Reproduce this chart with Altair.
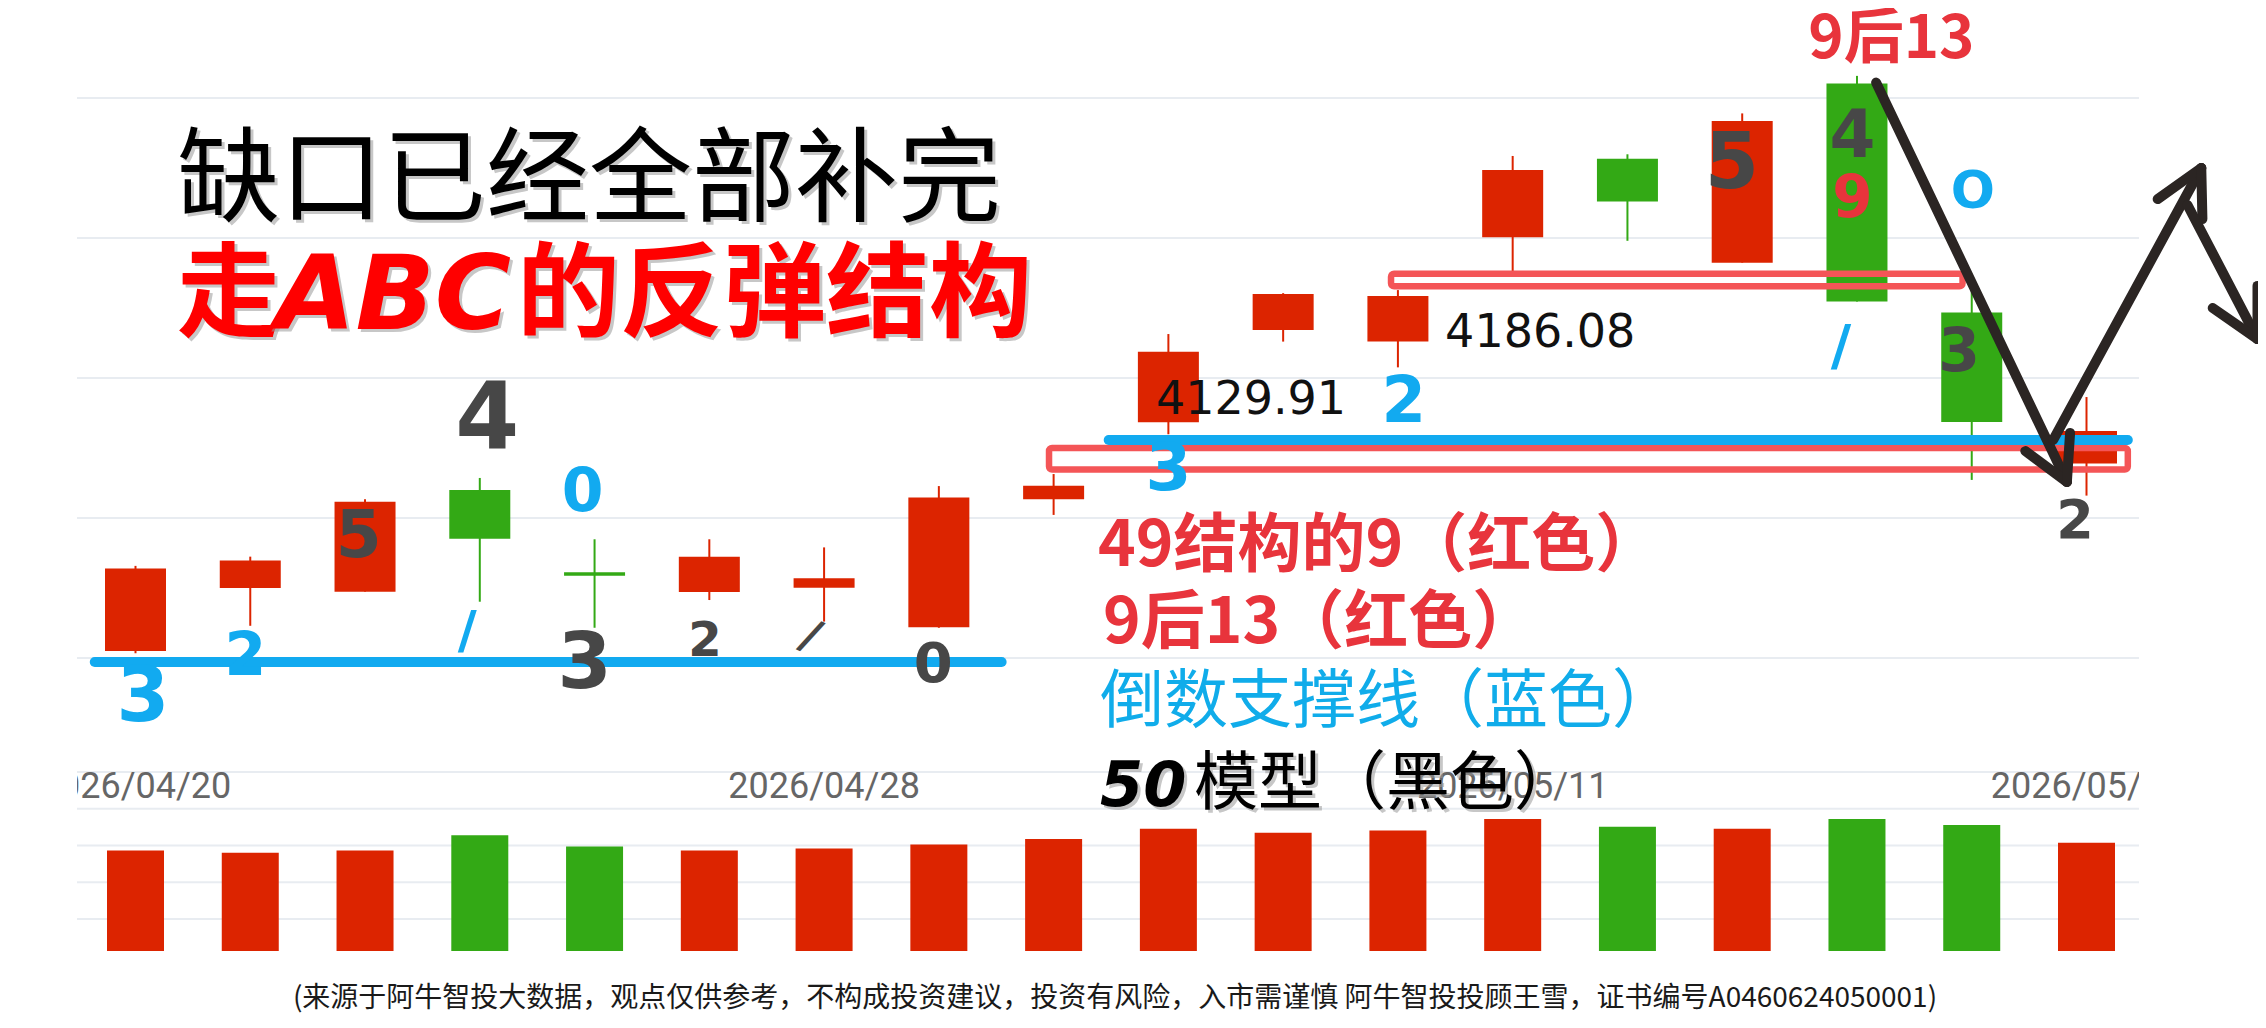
import altair as alt
import pandas as pd

# ---------------- data ----------------
dates = ["2026/04/20", "2026/04/21", "2026/04/22", "2026/04/23", "2026/04/24",
         "2026/04/27", "2026/04/28", "2026/04/29", "2026/04/30", "2026/05/06",
         "2026/05/07", "2026/05/08", "2026/05/11", "2026/05/12", "2026/05/13",
         "2026/05/14", "2026/05/15", "2026/05/18"]
opens = [4052.5, 4075.0, 4073.7, 4110.0, 4080.6, 4073.6, 4075.1, 4061.0, 4106.7,
         4134.2, 4167.1, 4163.0, 4200.3, 4228.3, 4191.2, 4255.2, 4173.4, 4119.5]
closes = [4082.0, 4084.8, 4105.8, 4092.6, 4079.4, 4086.2, 4078.5, 4107.3, 4111.5,
          4159.4, 4180.0, 4179.3, 4224.3, 4213.0, 4241.8, 4177.3, 4134.3, 4131.1]
highs = [4082.9, 4086.2, 4106.7, 4114.3, 4092.4, 4092.4, 4089.5, 4111.4, 4115.7,
         4165.7, 4180.3, 4181.4, 4229.3, 4229.9, 4244.5, 4257.9, 4181.4, 4143.2]
lows = [4051.7, 4061.5, 4073.7, 4070.1, 4060.8, 4070.7, 4063.0, 4060.8, 4101.1,
        4129.91, 4163.0, 4153.8, 4186.08, 4199.0, 4191.2, 4177.3, 4113.6, 4108.0]
volumes = [9730, 9610, 9730, 10560, 9940, 9730, 9840, 10060, 10350,
           10910, 10700, 10820, 11440, 11020, 10910, 11440, 11110, 10150]

price_grid = [4050, 4100, 4150, 4200, 4250]
vol_grid = [6000, 8000, 10000, 12000, 14000]
vol_base = 4260
tick_index = [0, 6, 12, 17]

# gap boxes (red), support lines (blue), 50-model arrows (black) in data units
box_x1 = [10.94, 7.96]
box_x2 = [15.92, 17.36]
box_top = [4187.25, 4125.0]
box_bot = [4182.75, 4117.3]

sup_x1 = [-0.355, 8.48]
sup_x2 = [7.547, 17.36]
sup_p = [4048.6, 4127.86]

arr_x1 = [15.167, 16.467, 16.857, 16.71, 17.62, 18.01, 17.88, 18.10, 18.49]
arr_y1 = [4255.5, 4123.9, 4130.4, 4127.9, 4213.9, 4206.8, 4211.8, 4175.0, 4182.9]
arr_x2 = [16.829, 16.829, 16.829, 18.0, 18.0, 18.0, 18.49, 18.49, 18.49]
arr_y2 = [4112.9, 4112.9, 4112.9, 4225.0, 4225.0, 4225.0, 4163.9, 4163.9, 4163.9]

# hand-written counts
hw_i = [0.065, 0.958, 1.946, 3.065, 2.89, 3.896, 3.914, 4.963, 5.88, 6.95,
        9.0, 11.05, 13.91, 14.96, 14.96, 14.86, 16.01, 15.89, 16.9]
hw_p = [4035.7, 4050.4, 4093.2, 4135.0, 4059.3, 4108.9, 4047.5, 4055.7, 4057.5, 4047.5,
        4117.1, 4141.1, 4226.1, 4236.1, 4213.6, 4161.1, 4216.4, 4158.9, 4098.6]
hw_t = ["3", "2", "5", "4", "/", "0", "3", "2", "/", "0",
        "3", "2", "5", "4", "9", "/", "O", "3", "2"]
hw_kind = ["b", "b", "k", "k", "b", "b", "k", "k", "k", "k",
           "b", "b", "k", "k", "r", "b", "b", "k", "k"]

price_notes = ["4129.91", "4186.08"]
note_i = [9.72, 12.24]
note_p = [4142.1, 4166.1]

# ---------------- styling ----------------
RED = "#dc2400"
GREEN = "#33a915"
GRID = "#e8ecf1"
BLUE = "#12aaf0"
BOX = "#f45557"
INK = "#474747"
LRED = "#e8343c"
CJK = "Noto Sans CJK SC"
HAND = "DejaVu Sans"

PLOT_W, PLOT_H = 2062, 1012
XS = alt.Scale(domain=[0, 17], range=[53.5, 2014.5], nice=False, zero=False)
YP = alt.Scale(domain=[4050, 4250], range=[650, 90], nice=False, zero=False)
YV = alt.Scale(domain=[vol_base, 14000], range=[943, 764], nice=False, zero=False)

df = pd.DataFrame({"i": list(range(len(dates))), "date": dates, "open": opens,
                   "close": closes, "high": highs, "low": lows, "vol": volumes})
df["col"] = [RED if c >= o else GREEN for o, c in zip(opens, closes)]

X = alt.X("i:Q", scale=XS, axis=None)

grid_p = alt.Chart(pd.DataFrame({"p": price_grid})).mark_rule(color=GRID, strokeWidth=2).encode(
    y=alt.Y("p:Q", scale=YP, axis=None), x=alt.value(0), x2=alt.value(PLOT_W))
grid_v = alt.Chart(pd.DataFrame({"v": vol_grid})).mark_rule(color=GRID, strokeWidth=2).encode(
    y=alt.Y("v:Q", scale=YV, axis=None), x=alt.value(0), x2=alt.value(PLOT_W))

vol = alt.Chart(df).mark_bar(size=57).encode(
    x=X, y=alt.Y("vol:Q", scale=YV, axis=None), y2=alt.datum(vol_base),
    color=alt.Color("col:N", scale=None))

wick = alt.Chart(df).mark_rule(strokeWidth=2).encode(
    x=X, y=alt.Y("low:Q", scale=YP, axis=None), y2="high:Q",
    color=alt.Color("col:N", scale=None))
body = alt.Chart(df).mark_bar(size=61).encode(
    x=X, y=alt.Y("open:Q", scale=YP, axis=None), y2="close:Q",
    color=alt.Color("col:N", scale=None))

ticks = pd.DataFrame({"i": tick_index, "t": [dates[k] for k in tick_index]})
date_lbl = alt.Chart(ticks).mark_text(
    clip=True, font="Roboto", fontSize=36, color="#666666",
    baseline="middle", align="center").encode(x=X, y=alt.value(779), text="t:N")

boxes = alt.Chart(pd.DataFrame({"x1": box_x1, "x2": box_x2, "y1": box_top, "y2": box_bot})).mark_rect(
    fillOpacity=0, stroke=BOX, strokeWidth=6.5, cornerRadius=3).encode(
    x=alt.X("x1:Q", scale=XS, axis=None), x2="x2:Q",
    y=alt.Y("y1:Q", scale=YP, axis=None), y2="y2:Q")

supports = alt.Chart(pd.DataFrame({"x1": sup_x1, "x2": sup_x2, "p": sup_p})).mark_rule(
    color=BLUE, strokeWidth=10, strokeCap="round").encode(
    x=alt.X("x1:Q", scale=XS, axis=None), x2="x2:Q",
    y=alt.Y("p:Q", scale=YP, axis=None))

hw_color = {"b": BLUE, "k": INK, "r": LRED}
sizes = [76, 60, 66, 92, 52, 60, 78, 48, 44, 56, 66, 64, 78, 66, 58, 56, 52, 60, 54]
angles = [0, 0, 0, 0, 0, 0, 0, 0, 25, 0, 0, 0, 0, 0, 0, 0, 0, 0, 0]
hw = pd.DataFrame({"i": hw_i, "p": hw_p, "t": hw_t,
                   "c": [hw_color[k] for k in hw_kind], "fs": sizes, "a": angles})
hand = alt.Chart(hw).mark_text(font=HAND, fontWeight="bold", baseline="middle", align="center").encode(
    x=alt.X("i:Q", scale=XS, axis=None), y=alt.Y("p:Q", scale=YP, axis=None), text="t:N",
    color=alt.Color("c:N", scale=None), size=alt.Size("fs:Q", scale=None),
    angle=alt.Angle("a:Q", scale=None))

notes = alt.Chart(pd.DataFrame({"i": note_i, "p": note_p, "t": price_notes})).mark_text(
    font=HAND, fontSize=46, color="#111111", baseline="middle", align="center").encode(
    x=alt.X("i:Q", scale=XS, axis=None), y=alt.Y("p:Q", scale=YP, axis=None), text="t:N")

top_note = alt.Chart(pd.DataFrame({"i": [15.3], "p": [4270.6], "t": ["9后13"]})).mark_text(
    font=CJK, fontSize=60, fontWeight="bold", color=LRED, baseline="middle", align="center").encode(
    x=alt.X("i:Q", scale=XS, axis=None), y=alt.Y("p:Q", scale=YP, axis=None), text="t:N")

arrows = alt.Chart(pd.DataFrame({"x1": arr_x1, "y1": arr_y1, "x2": arr_x2, "y2": arr_y2})).mark_rule(
    color="#2b2523", strokeWidth=10, strokeCap="round").encode(
    x=alt.X("x1:Q", scale=XS, axis=None), x2="x2:Q",
    y=alt.Y("y1:Q", scale=YP, axis=None), y2="y2:Q")


def label(text, x, y, size, color, weight="normal", font=CJK, align="left",
          style="normal", shadow=False):
    out = []
    if shadow:
        out.append(alt.Chart(alt.Data(values=[{"t": text}])).mark_text(
            font=font, fontSize=size, fontWeight=weight, fontStyle=style, color="#9a9a9a",
            opacity=0.55, align=align, baseline="middle", dx=3, dy=3).encode(
            x=alt.value(x), y=alt.value(y), text="t:N"))
    out.append(alt.Chart(alt.Data(values=[{"t": text}])).mark_text(
        font=font, fontSize=size, fontWeight=weight, fontStyle=style, color=color,
        align=align, baseline="middle").encode(x=alt.value(x), y=alt.value(y), text="t:N"))
    return out


texts = []
texts += label("缺口已经全部补完", 512, 175, 103, "#000000", align="center", shadow=True)
texts += label("走", 100, 290, 103, "#ff0000", weight="bold", shadow=True)
texts += label("ABC", 198, 290, 104, "#ff0000", weight="bold", font="DejaVu Sans",
               style="italic", shadow=True)
texts += label("的反弹结构", 440, 290, 103, "#ff0000", weight="bold", shadow=True)
texts += label("49结构的9（红色）", 1021, 539, 64, LRED, weight="bold")
texts += label("9后13（红色）", 1026, 616, 64, LRED, weight="bold")
texts += label("倒数支撑线（蓝色）", 1023, 695, 64, "#10acea")
texts += label("50", 1023, 779, 62, "#000000", weight="bold", font="DejaVu Sans",
               style="italic", shadow=True)
texts += label("模型（黑色）", 1117, 777, 64, "#000000", shadow=True)
texts += label("(来源于阿牛智投大数据，观点仅供参考，不构成投资建议，投资有风险，入市需谨慎 阿牛智投投顾王雪，证书编号A0460624050001)",
               1038, 991, 28, "#1a1a1a", align="center")

chart = alt.layer(
    grid_p, grid_v, vol, date_lbl, wick, body, boxes, supports, hand, notes, top_note,
    arrows, *texts
).resolve_scale(y="independent").properties(
    width=PLOT_W, height=PLOT_H, autosize="none",
    padding={"left": 69, "top": 0, "right": 119, "bottom": 0},
    background="white"
).configure_view(stroke=None)

chart.save("out.html", embed_options={"renderer": "svg", "actions": False})
